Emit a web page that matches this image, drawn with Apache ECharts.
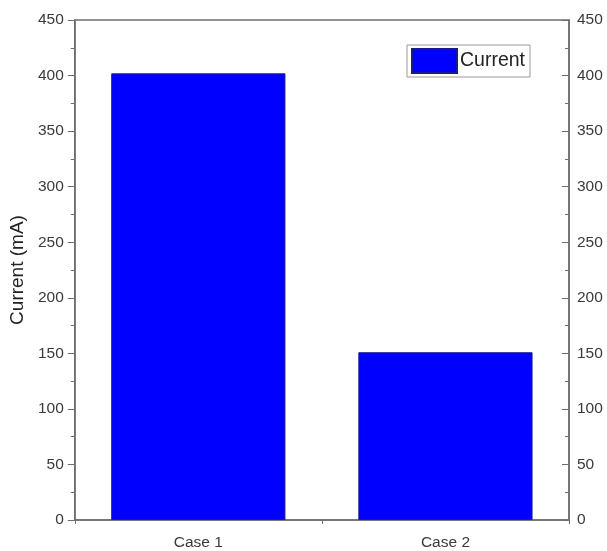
<!DOCTYPE html>
<html>
<head>
<meta charset="utf-8">
<script src="https://cdn.jsdelivr.net/npm/echarts@6/dist/echarts.min.js"></script>
<style>html,body{margin:0;padding:0;background:#fff}#c{width:607px;height:551px}</style>
</head>
<body>
<div id="c"></div>
<script>
var categories = ['Case 1', 'Case 2'];
var currentValues = [402, 151];
var seriesName = 'Current';
var yAxisTitle = 'Current (mA)';
var yMin = 0, yMax = 450, yInterval = 50;

var axisColor = '#6e6e6e';
var labelColor = '#3a3a3a';
var font = 'Liberation Sans, Arial, sans-serif';

var chart = echarts.init(document.getElementById('c'));
chart.setOption({
  animation: false,
  backgroundColor: '#fff',
  textStyle: { fontFamily: font },
  grid: { left: 74, right: 38, top: 20, bottom: 29, show: true, borderColor: axisColor, borderWidth: 1.5 },
  legend: {
    data: [{ name: seriesName, icon: 'rect' }],
    left: 407, top: 45,
    orient: 'vertical',
    padding: [3, 5, 3, 4],
    itemWidth: 45, itemHeight: 24, itemGap: 4,
    borderColor: '#999', borderWidth: 1,
    textStyle: { fontSize: 19.5, color: '#222', fontFamily: font, padding: [0, 0, 0, -2] }
  },
  xAxis: [
    {
      type: 'category',
      data: categories,
      boundaryGap: true,
      axisLine: { lineStyle: { color: axisColor, width: 1.5 } },
      axisTick: { alignWithLabel: true, length: 7, lineStyle: { color: axisColor } },
      axisLabel: { color: labelColor, fontSize: 15.5, margin: 15, fontFamily: font },
      splitLine: { show: false }
    },
    {
      type: 'value',
      position: 'bottom',
      min: 0, max: 2, interval: 1,
      axisLine: { show: false },
      axisTick: { show: true, length: 4, lineStyle: { color: axisColor } },
      axisLabel: { show: false },
      splitLine: { show: false }
    }
  ],
  yAxis: [
    {
      type: 'value',
      min: yMin, max: yMax, interval: yInterval,
      name: yAxisTitle,
      nameLocation: 'middle',
      nameGap: 45,
      nameTextStyle: { fontSize: 19, color: '#222', fontFamily: font },
      axisLine: { show: true, lineStyle: { color: axisColor, width: 1.5 } },
      axisTick: { show: true, length: 7, lineStyle: { color: axisColor } },
      minorTick: { show: true, splitNumber: 2, length: 4, lineStyle: { color: axisColor } },
      axisLabel: { color: labelColor, fontSize: 15.5, margin: 11, fontFamily: font },
      splitLine: { show: false }
    },
    {
      type: 'value',
      position: 'right',
      min: yMin, max: yMax, interval: yInterval,
      axisLine: { show: true, lineStyle: { color: axisColor, width: 1.5 } },
      axisTick: { show: true, inside: true, length: 7, lineStyle: { color: axisColor } },
      minorTick: { show: true, splitNumber: 2, length: 4, lineStyle: { color: axisColor } },
      axisLabel: { color: labelColor, fontSize: 15.5, margin: 8, fontFamily: font },
      splitLine: { show: false }
    }
  ],
  series: [
    {
      name: seriesName,
      type: 'bar',
      xAxisIndex: 0,
      yAxisIndex: 0,
      data: currentValues,
      barWidth: '70.5%',
      itemStyle: { color: '#0000ff', borderColor: '#1a1a8c', borderWidth: 1 }
    }
  ]
});
</script>
</body>
</html>
